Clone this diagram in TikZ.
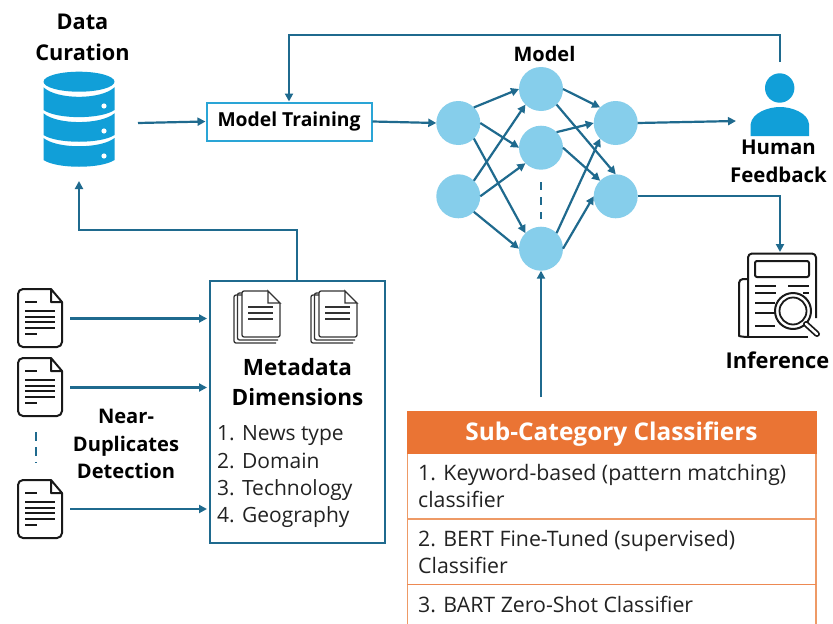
\documentclass[tikz,border=0pt]{standalone}
\usepackage{fontspec}
\setmainfont{Open Sans}
\usetikzlibrary{arrows.meta}
\definecolor{arrowc}{HTML}{1F6A8E}
\definecolor{iconb}{HTML}{119FD8}
\definecolor{nodeb}{HTML}{86CEEB}
\definecolor{boxb}{HTML}{2AA5D6}
\definecolor{orangeh}{HTML}{EA7434}
\definecolor{orangel}{HTML}{EE9A66}
\definecolor{inkc}{HTML}{222222}
\newcommand{\px}[1]{\fontsize{#1}{#1}\selectfont}
\tikzset{x=1pt,y=-1pt,
 conn/.style={draw=arrowc,line width=2.2pt,-{Triangle[length=8pt,width=8pt]}},
 connp/.style={draw=arrowc,line width=2.2pt},
 neuron/.style={circle,fill=nodeb,minimum size=44pt,inner sep=0pt,outer sep=0pt},
 head/.style={font=\px{21.7}\bfseries,anchor=base,text=black,inner sep=0pt},
 listt/.style={font=\px{21},anchor=base west,text=inkc,inner sep=0pt},
 rowt/.style={font=\px{21.3},anchor=base west,text=inkc,inner sep=0pt},
 icon/.style={draw=black!90,line width=2pt,line join=round},
 iconl/.style={draw=black!90,line width=1.8pt},
 iconf/.style={draw=black!80,line width=1.3pt},
}
\newcommand{\docicon}[3]{% name, cx, cy
 \begin{scope}[shift={(#2,#3)}]
 \coordinate (#1) at (0,0);
 \draw[icon,rounded corners=5pt] (11,-29) -- (-22,-29) -- (-22,29) -- (22,29) -- (22,-16);
 \draw[icon] (11,-29) -- (22,-16) -- (11,-16) -- cycle;
 \draw[iconl] (-15,-16) -- (-3,-16) (-15,-7) -- (15,-7) (-15,-1) -- (15,-1) (-15,4) -- (15,4) (-15,10) -- (15,10) (-15,16) -- (-3,16);
 \end{scope}}
\newcommand{\stackicon}[3]{% name, cx, cy
 \begin{scope}[shift={(#2,#3)}]
 \coordinate (#1) at (0,0);
 \draw[iconf,rounded corners=2pt] (-15,-23) -- (-23,-23) -- (-23,25) -- (19,25);
 \draw[iconf,rounded corners=2pt] (-15,-25) -- (-19.5,-25) -- (-19.5,22) -- (21,22);
 \draw[iconf,rounded corners=2pt] (11,-27) -- (-15,-27) -- (-15,19) -- (23,19) -- (23,-15);
 \draw[iconf] (11,-27) -- (23,-15) -- (11,-15) -- cycle;
 \draw[iconf] (-9,-11) -- (16,-11) (-9,-5) -- (16,-5) (-9,1) -- (16,1);
 \end{scope}}
\begin{document}
\begin{tikzpicture}
\useasboundingbox (0,0) rectangle (833,624);
\clip (0,0) rectangle (833,624);
\fill[white] (0,0) rectangle (833,624);
% database
\node[head] (data) at (82.5,29.5) {Data};
\node[head] (curation) at (82.5,60.5) {Curation};
\coordinate (db) at (79,122);
\begin{scope}[shift={(79,122)}]
 \fill[iconb] (0,-40.3) ellipse (35.5 and 10);
 \fill[iconb] (-35.5,-34.7) .. controls (-22,-22) and (22,-22) .. (35.5,-34.7) -- (35.5,-12) .. controls (22,-2.5) and (-22,-2.5) .. (-35.5,-12) -- cycle;
 \fill[iconb] (-35.5,-8.7) .. controls (-22,3) and (22,3) .. (35.5,-8.7) -- (35.5,13) .. controls (22,22) and (-22,22) .. (-35.5,13) -- cycle;
 \fill[iconb] (-35.5,16) .. controls (-22,27) and (22,27) .. (35.5,16) -- (35.5,38) .. controls (22,47) and (-22,47) .. (-35.5,38) -- cycle;
 \fill[white] (25,-16) circle (2.6) (25,9) circle (2.6) (25,34) circle (2.6);
\end{scope}
\coordinate (dbout) at (138,123);
\coordinate (dbin) at (79,181);
% training
\node[draw=boxb,line width=2pt,fill=white,minimum width=165pt,minimum height=38pt,inner sep=0pt,outer sep=1pt,font=\px{19.3}\bfseries] (train) at (289,121.5) {Model Training};
\draw[conn] (dbout) -- (train.west);
% neurons
\node[neuron] (a1) at (458.3,123) {};
\node[neuron] (a2) at (458.3,196.3) {};
\node[neuron] (b1) at (541,89) {};
\node[neuron] (b2) at (541,147.7) {};
\node[neuron] (b3) at (541,248.7) {};
\node[neuron] (c1) at (615.7,123) {};
\node[neuron] (c2) at (615.7,196.3) {};
\node[font=\px{20}\bfseries,inner sep=0pt,anchor=base] (modellbl) at (544.5,61.5) {Model};
\draw[conn] (train.east) -- (a1.west);
\draw[conn] (a1.45) -- (b1.west);
\draw[conn] (a1.east) -- (b2.west);
\draw[conn] (a1.-45) -- (b3.135);
\draw[conn] (a2.45) -- (b1.-135);
\draw[conn] (a2.east) -- (b2.-135);
\draw[conn] (a2.-45) -- (b3.west);
\draw[conn] (b1.east) -- (c1.135);
\draw[conn] (b1.-45) -- (c2.north);
\draw[conn] (b2.45) -- (c1.west);
\draw[conn] (b2.east) -- (c2.135);
\draw[conn] (b3.45) -- (c1.-135);
\draw[conn] (b3.east) -- (c2.west);
\coordinate (nd1) at (541,182);
\coordinate (nd2) at (541,219);
\draw[connp,dash pattern=on 8pt off 7pt] (nd1) -- (nd2);
% person
\coordinate (human) at (780,100);
\fill[iconb] (779.7,88) circle (14.7);
\fill[iconb] (750.7,136) -- (750.7,124) .. controls (752,113) and (768,107) .. (780,107) .. controls (792,107) and (808,113) .. (809,124) -- (809,136) -- cycle;
\node[head,font=\px{20.4}\bfseries] (hum) at (778.5,154.5) {Human};
\node[head,font=\px{20.4}\bfseries] (feed) at (778.5,182) {Feedback};
\coordinate (humanin) at (736,121);
\coordinate (humanout) at (780,62);
\coordinate (fbc1) at (780,35);
\coordinate (fbc2) at (289,35);
\draw[conn] (c1.east) -- (humanin);
\draw[conn] (humanout) -- (fbc1) -- (fbc2) -- (train.north);
% inference icon
\coordinate (infin) at (780,252);
\coordinate (infc) at (780,196.3);
\draw[conn] (c2.east) -- (infc) -- (infin);
\begin{scope}
 \draw[icon,rounded corners=4pt] (748,279) -- (739,279) -- (739,332) .. controls (739,336) and (743,337) .. (748,337);
 \draw[icon,rounded corners=4pt] (748,337) -- (748,253.5) -- (816,253.5) -- (816,318);
 \draw[icon] (748,337) -- (808,337);
 \draw[icon,rounded corners=2pt] (755,261) -- (809,261) -- (809,277) -- (755,277) -- cycle;
 \draw[iconl] (755,286) -- (776,286) (788,286) -- (809,286) (755,293) -- (776,293) (803,293) -- (809,293) (755,303) -- (775,303) (755,313) -- (775,313) (755,326) -- (775,326);
 \draw[icon,fill=white] (793,311) circle (18);
 \draw[iconl] (793,311) circle (13.5);
 \draw[draw=black!90,line width=6pt,line cap=round] (806,324) -- (817,334);
 \draw[draw=white,line width=2.5pt,line cap=round] (806,324) -- (817,334);
\end{scope}
\node[head,font=\px{21.8}\bfseries] (inf) at (777.5,368.5) {Inference};
% docs
\docicon{d1}{40}{318}
\docicon{d2}{40}{387}
\docicon{d3}{40}{509}
\coordinate (dd1) at (36,432);
\coordinate (dd2) at (36,463);
\draw[connp,dash pattern=on 9pt off 6pt] (dd1) -- (dd2);
\node[head,font=\px{20.1}\bfseries] (ndd1) at (126,423) {Near-};
\node[head,font=\px{20.1}\bfseries] (ndd2) at (126,451) {Duplicates};
\node[head,font=\px{20.1}\bfseries] (ndd3) at (126,478) {Detection};
% metadata
\node[draw=arrowc,line width=2pt,minimum width=175pt,minimum height=262pt,inner sep=0pt,outer sep=1pt,fill=white] (meta) at (297,411.5) {};
\coordinate (m1) at (207,318.5);
\coordinate (m2) at (207,387.5);
\coordinate (m3) at (207,509);
\coordinate (s1s) at (70,318.5);
\coordinate (s2s) at (70,387.5);
\coordinate (s3s) at (70,509);
\coordinate (mc1) at (297,230);
\coordinate (mc2) at (79,230);
\draw[conn] (s1s) -- (m1);
\draw[conn] (s2s) -- (m2);
\draw[conn] (s3s) -- (m3);
\draw[conn] (meta.north) -- (mc1) -- (mc2) -- (dbin);
\stackicon{s1}{257}{318}
\stackicon{s2}{334}{318}
\node[head,font=\px{22.5}\bfseries] (mdh1) at (297.5,375) {Metadata};
\node[head,font=\px{22.5}\bfseries] (mdh2) at (297.5,405) {Dimensions};
\node[listt] (l1) at (217,440) {1. News type};
\node[listt] (l2) at (217,468) {2. Domain};
\node[listt] (l3) at (217,495.5) {3. Technology};
\node[listt] (l4) at (217,522.5) {4. Geography};
% classifiers
\coordinate (clf) at (541,397);
\draw[conn] (clf) -- (b3.south);
\fill[orangeh] (407,411) rectangle (816.5,454);
\node[font=\px{24.4}\bfseries,text=white,inner sep=0pt,anchor=base] (sch) at (611.5,440) {Sub-Category Classifiers};
\draw[orangel,line width=1.4pt] (407.5,454) -- (407.5,630) (816,454) -- (816,630) (407,519) -- (816,519);
\draw[orangeh!85!white,line width=1.4pt] (407,584.5) -- (816,584.5);
\node[rowt] (r1a) at (418,480) {1. Keyword-based (pattern matching)};
\node[rowt] (r1b) at (418,507) {classifier};
\node[rowt] (r2a) at (418,546) {2. BERT Fine-Tuned (supervised)};
\node[rowt] (r2b) at (418,573) {Classifier};
\node[rowt] (r3) at (418,612) {3. BART Zero-Shot Classifier};
\end{tikzpicture}
\end{document}
